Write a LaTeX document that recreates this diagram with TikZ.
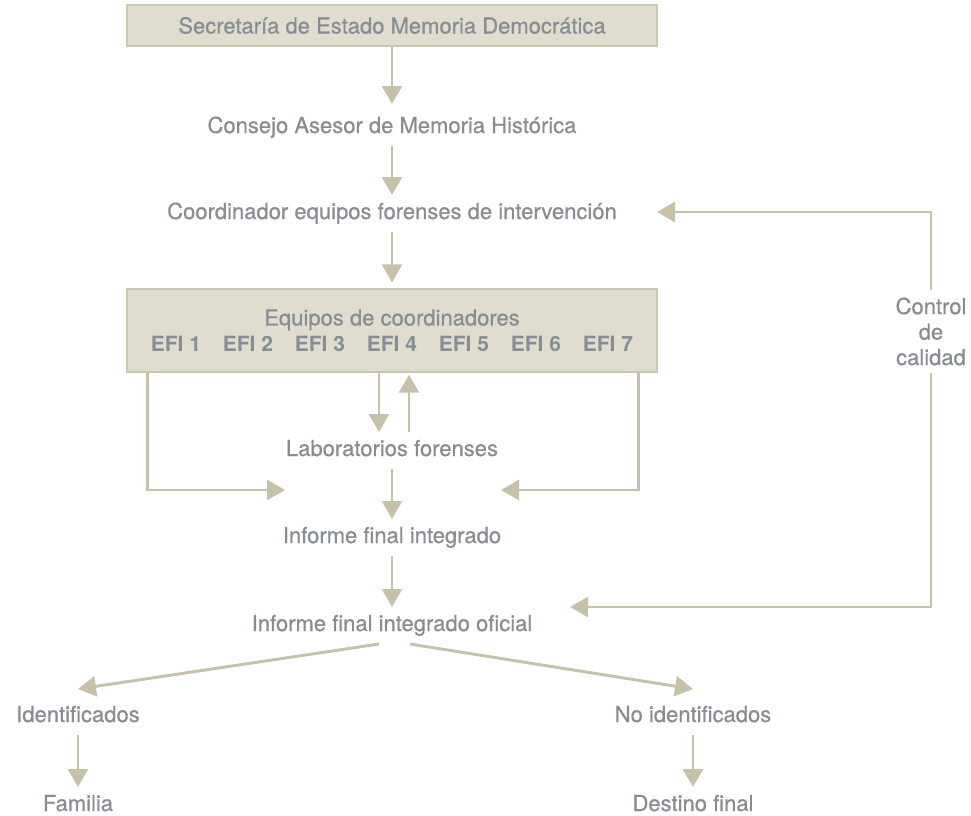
\documentclass[tikz,border=0pt]{standalone}
\usepackage{fontspec}
\setmainfont{TeX Gyre Heros}[UprightFeatures={FakeBold=0.6}, BoldFeatures={FakeBold=0}]
\usetikzlibrary{arrows.meta}
\definecolor{txt}{HTML}{878D93}
\definecolor{lncol}{HTML}{C6C2A9}
\definecolor{boxfill}{HTML}{E0DDCE}
\definecolor{boxline}{HTML}{CBC7B1}
\begin{document}
\begin{tikzpicture}[x=1pt,y=-1pt,
  every node/.style={font=\fontsize{22}{25.5}\selectfont, text=txt},
  lbl/.style={anchor=base, inner sep=0pt, text height=16pt, text depth=5pt, outer ysep=8pt},
  fbox/.style={draw=boxline, fill=boxfill, line width=1.4pt, inner sep=0pt, align=center},
  arr/.style={draw=lncol, line width=2.9pt, -{Triangle[width=20pt,length=18pt]}}]
\useasboundingbox (0,0) rectangle (971,815);

\node[fbox, minimum width=530pt, minimum height=41pt] (sec) at (392,25.5) {Secretaría de Estado Memoria Democrática};
\node[lbl] (cons) at (392,133) {Consejo Asesor de Memoria Histórica};
\node[lbl] (coord) at (392,219) {Coordinador equipos forenses de intervención};
\node[fbox, minimum width=530pt, minimum height=83pt] (equ) at (392,330.5)
  {Equipos de coordinadores\\[0.5pt]
   \fontsize{21}{25.5}\selectfont\bfseries\makebox[72pt][l]{EFI 1}\makebox[72pt][l]{EFI 2}\makebox[72pt][l]{EFI 3}\makebox[72pt][l]{EFI 4}\makebox[72pt][l]{EFI 5}\makebox[72pt][l]{EFI 6}EFI 7};
\node[lbl] (lab) at (392,456) {Laboratorios forenses};
\node[lbl] (inf) at (392,543) {Informe final integrado};
\node[lbl] (ofi) at (392,631) {Informe final integrado oficial};
\node[lbl] (ident) at (78,722) {Identificados};
\node[lbl] (noid) at (693,722) {No identificados};
\node[lbl] (fam) at (78,811) {Familia};
\node[lbl] (dest) at (693,811) {Destino final};
\node[inner sep=0pt, minimum height=83pt, align=center] (ctrl) at (931,331.5) {Control\\de\\calidad};

\coordinate (tl) at (285,490);
\coordinate (tr) at (501,490);
\coordinate (tq) at (657,212);
\coordinate (bq) at (570,607);

\draw[arr, shorten >=5pt] (sec.south) -- (cons.north);
\draw[arr] (cons.south) -- (coord.north);
\draw[arr, shorten >=6pt] (coord.south) -- (equ.north);
\draw[arr] ([xshift=-13pt]equ.south) -- ([xshift=-13pt]lab.north);
\draw[arr, shorten >=2pt] ([xshift=17pt]lab.north) -- ([xshift=17pt]equ.south);
\draw[arr] ([xshift=21pt]equ.south west) |- (tl);
\draw[arr] ([xshift=-19pt]equ.south east) |- (tr);
\draw[arr] (lab.south) -- (inf.north);
\draw[arr] (inf.south) -- (ofi.north);
\draw[arr] ([xshift=-13pt]ofi.south) -- ([yshift=9pt]ident.north);
\draw[arr] ([xshift=18pt]ofi.south) -- ([yshift=9pt]noid.north);
\draw[arr] (ident.south) -- (fam.north);
\draw[arr] (noid.south) -- (dest.north);
\draw[arr] (ctrl.north) |- (tq);
\draw[arr] (ctrl.south) |- (bq);
\end{tikzpicture}
\end{document}
